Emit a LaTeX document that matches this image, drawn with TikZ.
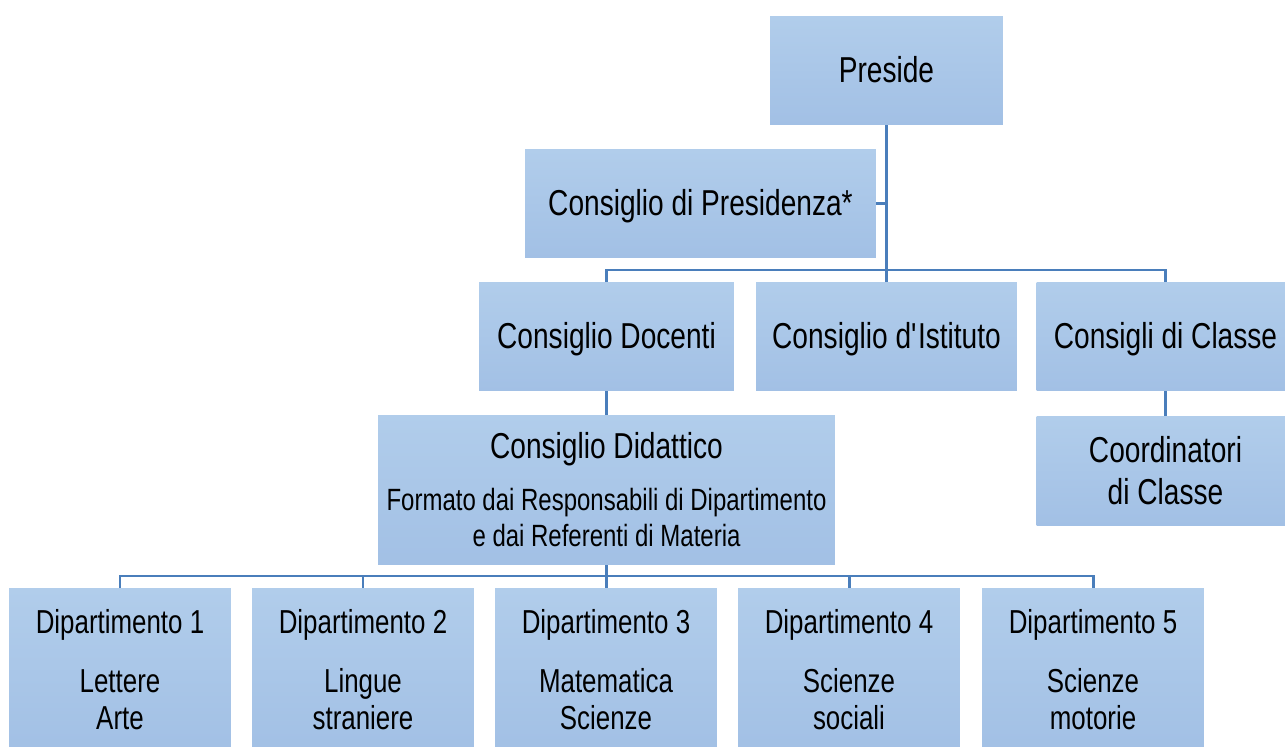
\documentclass[tikz,border=0pt]{standalone}
\usepackage{fontspec}
\setmainfont[FakeStretch=0.78]{Liberation Sans}
\definecolor{boxtop}{RGB}{177,205,235}
\definecolor{boxbot}{RGB}{162,192,229}
\definecolor{linkblue}{RGB}{74,126,187}
\newcommand{\bigtxt}{\fontsize{20.5}{24}\selectfont}
\newcommand{\midtxt}{\fontsize{18.9}{21}\selectfont}
\newcommand{\smalltxt}{\fontsize{17.5}{20.5}\selectfont}
\begin{document}
\begin{tikzpicture}[x=0.02cm, y=-0.02cm,
    orgbox/.style={top color=boxtop, bottom color=boxbot, draw=none, inner sep=0pt,
      align=center, font=\bigtxt, minimum height=2.18cm},
    oneline/.style={text height=18.6pt, text depth=5pt},
    link/.style={draw=linkblue, line width=1.7pt}]
  \useasboundingbox (0,0) rectangle (1285,747);
  % top levels
  \node[orgbox, oneline, minimum width=4.66cm] (preside) at (886.5,70.5) {Preside};
  \node[orgbox, oneline, minimum width=7.02cm] (cpres) at (700.5,203.5) {Consiglio di Presidenza*};
  \node[orgbox, oneline, minimum width=5.10cm] (cdoc) at (606.5,336.5) {Consiglio Docenti};
  \node[orgbox, oneline, minimum width=5.22cm] (cist) at (886.5,336.5) {Consiglio d\textquotesingle Istituto};
  \node[orgbox, oneline, minimum width=5.16cm] (ccla) at (1165.5,336.5) {Consigli di Classe};
  \node[orgbox, minimum width=5.16cm, minimum height=2.2cm] (coord) at (1165.5,471) {Coordinatori\\di Classe};
  \node[orgbox, minimum width=9.14cm, minimum height=3cm, font=\smalltxt] (cdid) at (606.5,490)
    {{\bigtxt Consiglio Didattico}\\[9pt]Formato dai Responsabili di Dipartimento\\e dai Referenti di Materia};
  % departments
  \foreach \i/\xc/\subj in {1/120/{Lettere\\Arte}, 2/363/{Lingue\\straniere},
      3/606/{Matematica\\Scienze}, 4/849/{Scienze\\sociali}, 5/1093/{Scienze\\motorie}}
    \node[orgbox, font=\midtxt, minimum width=4.44cm, minimum height=3.28cm] (dip\i) at (\xc,670)
      {Dipartimento \i\\[12.5pt]\subj};
  \coordinate (topbar) at (886.5,270);
  \coordinate (dipbar) at (606.5,576);
  % connectors
  \path[link] (preside.south) -- (cist.north);
  \path[link] (cpres.east) -- (cpres.east -| preside.south);
  \path[link] (cdoc.north) -- (cdoc.north |- topbar) -- (ccla.north |- topbar) -- (ccla.north);
  \path[link] (cdoc.south) -- (cdid.north);
  \path[link] (ccla.south) -- (coord.north);
  \path[link] (cdid.south) -- (cdid.south |- dipbar);
  \path[link] (dip1.north) -- (dip1.north |- dipbar) -- (dip5.north |- dipbar) -- (dip5.north);
  \foreach \i in {2,3,4}
    \path[link] (dip\i.north) -- (dip\i.north |- dipbar);
\end{tikzpicture}
\end{document}
